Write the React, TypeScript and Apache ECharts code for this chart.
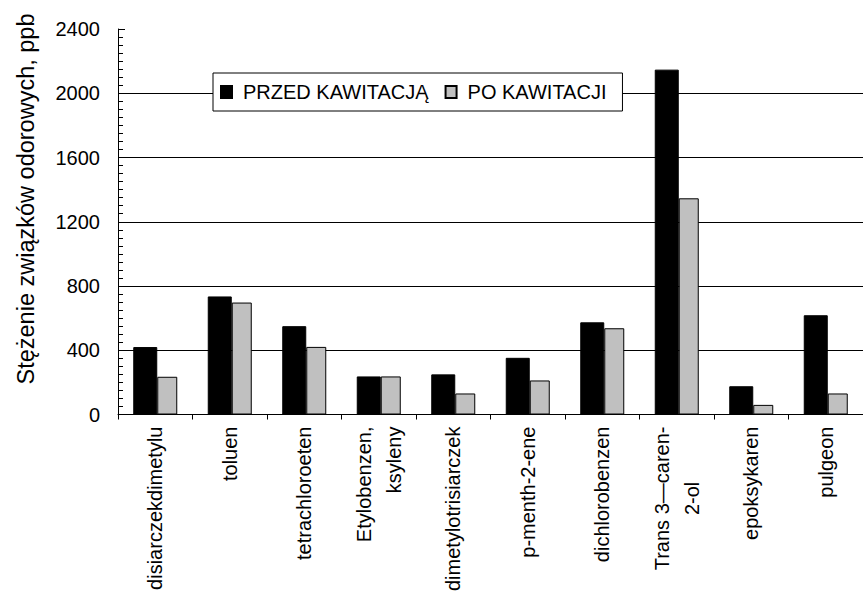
import React, { useEffect, useRef } from "react";
import * as echarts from "echarts";

const categories = [
  "disiarczekdimetylu",
  "toluen",
  "tetrachloroeten",
  "Etylobenzen,\nksyleny",
  "dimetylotrisiarczek",
  "p-menth-2-ene",
  "dichlorobenzen",
  "Trans 3\u2014caren-\n2-ol",
  "epoksykaren",
  "pulgeon",
];
const centeredLabels = ["Trans 3\u2014caren-\n2-ol"];
const przedKawitacja = [420, 735, 550, 237, 250, 353, 574, 2147, 176, 618];
const poKawitacji = [235, 697, 421, 237, 131, 212, 537, 1346, 60, 131];
const seriesNames = ["PRZED KAWITACJĄ", "PO KAWITACJI"];
const yTitle = "Stężenie związków odorowych, ppb";

const FONT = "'Liberation Sans', Arial, sans-serif";

export default function App() {
  const ref = useRef<HTMLDivElement>(null);
  useEffect(() => {
    if (!ref.current) return;
    const chart = echarts.init(ref.current, undefined, { renderer: "svg" });
    chart.setOption({
      animation: false,
      backgroundColor: "#fff",
      textStyle: { fontFamily: FONT, color: "#000" },
      grid: { left: 118, right: -8, top: 29, bottom: 179, containLabel: false },
      legend: {
        left: 213,
        top: 73,
        orient: "horizontal",
        backgroundColor: "#fff",
        borderColor: "#000",
        borderWidth: 1,
        borderRadius: 0,
        padding: [9, 16, 9, 7],
        itemWidth: 11,
        itemHeight: 12,
        itemGap: 16,
        icon: "rect",
        textStyle: { fontFamily: FONT, fontSize: 20, color: "#000", padding: [0, 0, 0, 6] },
        data: seriesNames,
      },
      xAxis: {
        type: "category",
        data: categories,
        boundaryGap: true,
        axisLine: { show: true, lineStyle: { color: "#000", width: 1 } },
        axisTick: { show: true, inside: false, length: 5, lineStyle: { color: "#000" } },
        axisLabel: {
          rotate: 90,
          interval: 0,
          margin: 12,
          fontFamily: FONT,
          fontSize: 20,
          lineHeight: 30,
          color: "#000",
          formatter: (v: string) => {
            if (centeredLabels.indexOf(v) >= 0) {
              return v
                .split("\n")
                .map((line) => "{c|" + line + "}")
                .join("\n");
            }
            return v;
          },
          rich: {
            c: {
              align: "center",
              fontFamily: FONT,
              fontSize: 20,
              lineHeight: 30,
              color: "#000",
            },
          },
        },
        splitLine: { show: false },
      },
      yAxis: {
        type: "value",
        min: 0,
        max: 2400,
        interval: 400,
        axisLine: { show: true, lineStyle: { color: "#000", width: 1 } },
        axisTick: { show: true, inside: true, length: 7, lineStyle: { color: "#000", width: 1 } },
        minorTick: { show: true, splitNumber: 8, length: 5, lineStyle: { color: "#000", width: 1 } },
        axisLabel: {
          margin: 18,
          fontFamily: FONT,
          fontSize: 20,
          color: "#000",
          formatter: (v: number) => String(v),
        },
        splitLine: {
          show: true,
          showMinLine: false,
          showMaxLine: false,
          lineStyle: { color: "#000", width: 1 },
        },
      },
      graphic: [
        {
          type: "text",
          x: 26,
          y: 199,
          rotation: Math.PI / 2,
          style: {
            text: yTitle,
            fontFamily: FONT,
            fontSize: 23.5,
            fill: "#000",
            align: "center",
            verticalAlign: "middle",
          },
        },
      ],
      series: [
        {
          name: seriesNames[0],
          type: "bar",
          data: przedKawitacja,
          barWidth: 24,
          barGap: "0%",
          itemStyle: { color: "#000", borderColor: "#000", borderWidth: 1 },
        },
        {
          name: seriesNames[1],
          type: "bar",
          data: poKawitacji,
          barWidth: 20,
          barGap: "0%",
          itemStyle: { color: "#c0c0c0", borderColor: "#000", borderWidth: 1 },
        },
      ],
    });
    return () => chart.dispose();
  }, []);
  return (
    <div
      ref={ref}
      style={{ position: "fixed", left: 0, top: 0, width: 863, height: 594, background: "#fff" }}
    />
  );
}
